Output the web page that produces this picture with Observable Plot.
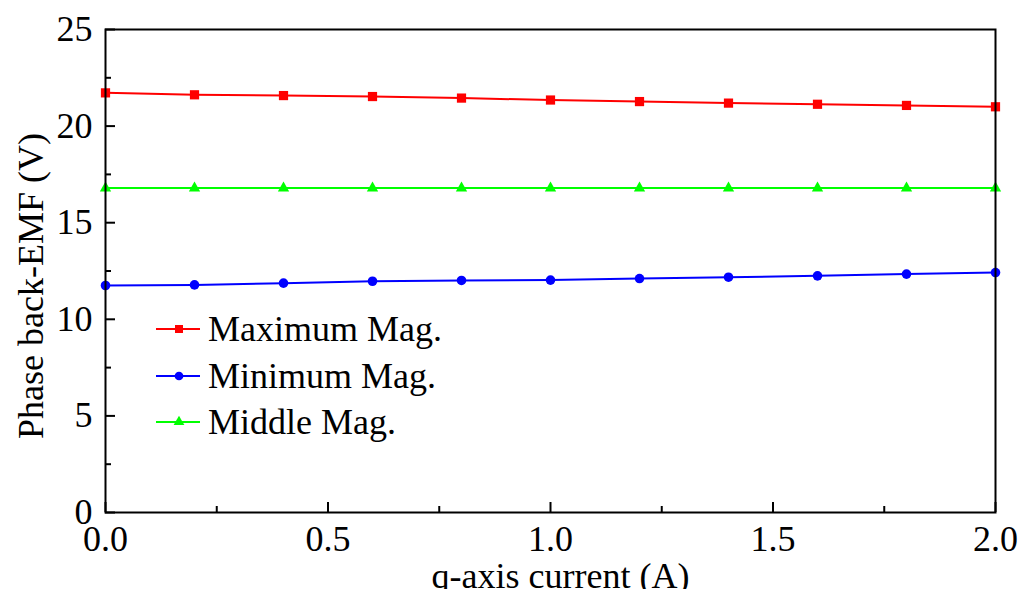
<!DOCTYPE html>
<html><head><meta charset="utf-8">
<script src="https://cdn.jsdelivr.net/npm/d3@7"></script>
<script src="https://cdn.jsdelivr.net/npm/@observablehq/plot@0.6"></script>
<style>
html,body{margin:0;padding:0;background:#fff;}
#chart svg{display:block;}
#chart svg, #chart svg text{font-family:'Liberation Serif','Times New Roman',serif !important;}
</style>
</head><body><div id="chart"></div>
<script>
// ---- data ----
const current = [0, 0.2, 0.4, 0.6, 0.8, 1.0, 1.2, 1.4, 1.6, 1.8, 2.0];
const maxMag  = [21.72, 21.62, 21.58, 21.53, 21.45, 21.35, 21.27, 21.19, 21.13, 21.07, 21.00];
const minMag  = [11.75, 11.78, 11.87, 11.97, 12.01, 12.03, 12.11, 12.18, 12.25, 12.34, 12.42];
const midMag  = [16.79, 16.79, 16.79, 16.79, 16.79, 16.79, 16.79, 16.79, 16.79, 16.79, 16.79];
const seriesNames = ["Maximum Mag.", "Minimum Mag.", "Middle Mag."];
const seriesColors = ["#ff0000", "#0000ff", "#00ff00"];
const seriesSymbols = ["square", "circle", "triangle"];
const xTicks = [0, 0.5, 1.0, 1.5, 2.0];
const xMinorTicks = [0.25, 0.75, 1.25, 1.75];
const yTicks = [0, 5, 10, 15, 20, 25];
const yMinorTicks = [2.5, 7.5, 12.5, 17.5, 22.5];
const xLabel = "q-axis current (A)";
const yLabel = "Phase back-EMF (V)";

const seriesValues = [maxMag, minMag, midMag];
const rows = [];
seriesNames.forEach((name, i) => {
  current.forEach((x, j) => rows.push({series: name, x, y: seriesValues[i][j]}));
});

const font = "'Liberation Serif', 'Times New Roman', serif";
const fs = 36;

const marks = [];
seriesNames.forEach((name, i) => {
  const d = rows.filter(r => r.series === name);
  marks.push(Plot.line(d, {x: "x", y: "y", stroke: seriesColors[i], strokeWidth: 2}));
  marks.push(Plot.dot(d, {x: "x", y: "y", fill: seriesColors[i], stroke: "none",
    symbol: () => seriesSymbols[i], r: seriesSymbols[i] === "square" ? 5.2 : (seriesSymbols[i] === "circle" ? 4.8 : 4.2)}));
});

const chart = Plot.plot({
  width: 1033,
  height: 589,
  marginLeft: 105,
  marginRight: 38,
  marginTop: 29,
  marginBottom: 77,
  style: {fontFamily: font, fontSize: fs + "px", color: "black", background: "white", overflow: "visible"},
  x: {domain: [0, 2], type: "linear"},
  y: {domain: [0, 25], type: "linear"},
  marks: [
    ...marks,
    Plot.axisX(xTicks, {tickSize: -10, tickPadding: 23, tickFormat: d => d.toFixed(1), label: null, fontSize: fs, strokeWidth: 2}),
    Plot.axisX(xMinorTicks, {tickSize: -6, tickFormat: () => "", label: null, strokeWidth: 2}),
    Plot.axisY(yTicks, {tickSize: -10, tickPadding: 23, tickFormat: d => String(d), label: null, fontSize: fs, strokeWidth: 2}),
    Plot.axisY(yMinorTicks, {tickSize: -6, tickFormat: () => "", label: null, strokeWidth: 2}),
    Plot.frame({stroke: "black", strokeWidth: 2}),
    Plot.text([xLabel], {frameAnchor: "bottom", dy: 63.5, dx: 10, text: d => d, fontSize: fs, textAnchor: "middle", lineAnchor: "middle", fill: "black"}),
    Plot.text([yLabel], {frameAnchor: "left", dx: -74.5, dy: 15, rotate: -90, text: d => d, fontSize: fs, textAnchor: "middle", lineAnchor: "middle", fill: "black"})
  ]
});
document.getElementById("chart").appendChild(chart);

// ---- legend (inside plot area) ----
const svg = d3.select(chart);
const leg = svg.append("g").attr("font-family", font).attr("font-size", fs).attr("text-anchor", "start");
const legRowsY = [329, 376, 422];
seriesNames.forEach((name, i) => {
  const y = legRowsY[i];
  const g = leg.append("g");
  g.append("line").attr("x1", 156).attr("x2", 200).attr("y1", y).attr("y2", y)
    .attr("stroke", seriesColors[i]).attr("stroke-width", 2);
  const sym = seriesSymbols[i] === "square" ? d3.symbolSquare : seriesSymbols[i] === "circle" ? d3.symbolCircle : d3.symbolTriangle;
  const size = seriesSymbols[i] === "square" ? 64 : seriesSymbols[i] === "circle" ? 60 : 50;
  g.append("path").attr("d", d3.symbol(sym, size)()).attr("transform", `translate(179,${y})`).attr("fill", seriesColors[i]);
  g.append("text").attr("x", 208).attr("y", y).attr("dy", "0.32em").attr("text-anchor", "start").attr("fill", "black").text(name);
});
</script>
</body></html>
